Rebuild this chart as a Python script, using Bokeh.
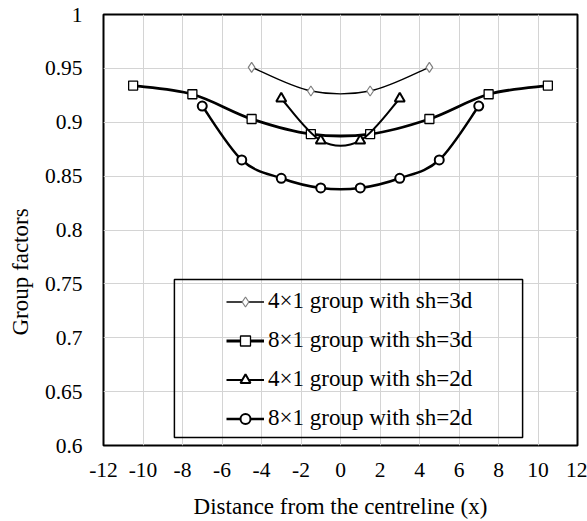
import numpy as np
from bokeh.plotting import figure
from bokeh.models import (FixedTicker, CustomJSTickFormatter, Legend, LegendItem,
                          BoxAnnotation, Title, Range1d)
from bokeh.embed import file_html
from bokeh.resources import INLINE

# ---------------- data ----------------
x_4x1_3d = [-4.5, -1.5, 1.5, 4.5]
y_4x1_3d = [0.951, 0.929, 0.929, 0.951]

x_8x1_3d = [-10.5, -7.5, -4.5, -1.5, 1.5, 4.5, 7.5, 10.5]
y_8x1_3d = [0.934, 0.926, 0.903, 0.889, 0.889, 0.903, 0.926, 0.934]

x_4x1_2d = [-3, -1, 1, 3]
y_4x1_2d = [0.922, 0.883, 0.883, 0.922]

x_8x1_2d = [-7, -5, -3, -1, 1, 3, 5, 7]
y_8x1_2d = [0.915, 0.865, 0.848, 0.839, 0.839, 0.848, 0.865, 0.915]

labels = ["4\u00d71 group with sh=3d", "8\u00d71 group with sh=3d",
          "4\u00d71 group with sh=2d", "8\u00d71 group with sh=2d"]

x_ticks = [-12, -10, -8, -6, -4, -2, 0, 2, 4, 6, 8, 10, 12]
y_ticks = [0.6, 0.65, 0.7, 0.75, 0.8, 0.85, 0.9, 0.95, 1.0]

FONT = "Liberation Serif"

p = figure(width=587, height=521, output_backend="svg", toolbar_location=None,
           x_range=Range1d(-12, 12), y_range=Range1d(0.6, 1.0),
           min_border_left=102, min_border_right=10, min_border_top=14,
           min_border_bottom=76)

p.outline_line_color = "black"
p.outline_line_width = 2
p.background_fill_color = "white"
p.border_fill_color = "white"

for ax in (p.xaxis[0], p.yaxis[0]):
    ax.axis_line_color = None
    ax.major_tick_line_color = None
    ax.minor_tick_line_color = None
    ax.major_tick_out = 0
    ax.major_tick_in = 0
    ax.minor_tick_out = 0
    ax.major_label_text_font = FONT
    ax.major_label_text_font_size = "21.5px"
    ax.major_label_text_color = "black"
    ax.axis_label_text_font = FONT
    ax.axis_label_text_font_size = "23px"
    ax.axis_label_text_font_style = "normal"
    ax.axis_label_text_color = "black"

p.xaxis.ticker = FixedTicker(ticks=x_ticks)
p.yaxis.ticker = FixedTicker(ticks=y_ticks)
p.xaxis.formatter = CustomJSTickFormatter(code="return String(Number(tick.toFixed(2)));")
p.yaxis.formatter = CustomJSTickFormatter(code="return String(Number(tick.toFixed(2)));")
p.xaxis.major_label_standoff = 17
p.yaxis.major_label_standoff = 21
p.xaxis.axis_label = "Distance from the centreline (x)"
p.xaxis.axis_label_standoff = 14

p.xgrid.grid_line_color = "#d4d4d4"
p.ygrid.grid_line_color = "#d4d4d4"
p.xgrid.grid_line_width = 1
p.ygrid.grid_line_width = 1


def smooth(xs, ys):
    """Bezier segments (Excel-style smoothing) through the data points."""
    n = len(xs)
    d = dict(x0=[], y0=[], x1=[], y1=[], cx0=[], cy0=[], cx1=[], cy1=[])
    for i in range(n - 1):
        a = i - 1 if i > 0 else i
        b = i + 2 if i + 2 < n else i + 1
        d["x0"].append(xs[i]); d["y0"].append(ys[i])
        d["x1"].append(xs[i + 1]); d["y1"].append(ys[i + 1])
        d["cx0"].append(xs[i] + (xs[i + 1] - xs[a]) / 6)
        d["cy0"].append(ys[i] + (ys[i + 1] - ys[a]) / 6)
        d["cx1"].append(xs[i + 1] - (xs[b] - xs[i]) / 6)
        d["cy1"].append(ys[i + 1] - (ys[b] - ys[i]) / 6)
    return d


series = [
    (x_4x1_3d, y_4x1_3d, 1.3, dict(marker="diamond", size=10,
                                   line_color="#808080", line_width=1.2)),
    (x_8x1_3d, y_8x1_3d, 2.8, dict(marker="square", size=9,
                                   line_color="black", line_width=1.3)),
    (x_4x1_2d, y_4x1_2d, 2.0, dict(marker="triangle", size=10,
                                   line_color="black", line_width=2)),
    (x_8x1_2d, y_8x1_2d, 2.5, dict(marker="circle", size=9,
                                   line_color="black", line_width=2)),
]

items = []
for (xs, ys, lw, mk), lab in zip(series, labels):
    b = p.bezier(source=smooth(xs, ys), x0="x0", y0="y0", x1="x1", y1="y1",
                 cx0="cx0", cy0="cy0", cx1="cx1", cy1="cy1",
                 line_color="black", line_width=lw)
    s = p.scatter(xs, ys, fill_color="white", **mk)
    items.append(LegendItem(label=lab, renderers=[b, s]))

# legend frame
p.add_layout(BoxAnnotation(left=-8.41, right=9.22, bottom=0.6074, top=0.7541,
                           fill_color=None, fill_alpha=0,
                           line_color="black", line_alpha=1.0, line_width=1.5))

legend = Legend(items=items, location=(123, 14), margin=0, padding=7,
                spacing=13, glyph_width=38, glyph_height=25, label_height=25,
                label_standoff=4, border_line_color=None,
                background_fill_alpha=0,
                label_text_font=FONT, label_text_font_size="23px",
                label_text_color="black")
p.add_layout(legend, "center")

# y axis title (placed lower like the original)
p.add_layout(Title(text="Group factors", align="left", offset=110,
                   standoff=14, vertical_align="top", text_font=FONT,
                   text_font_size="23px", text_font_style="normal",
                   text_color="black"), "left")

open("out.html", "w").write(file_html(p, INLINE))
